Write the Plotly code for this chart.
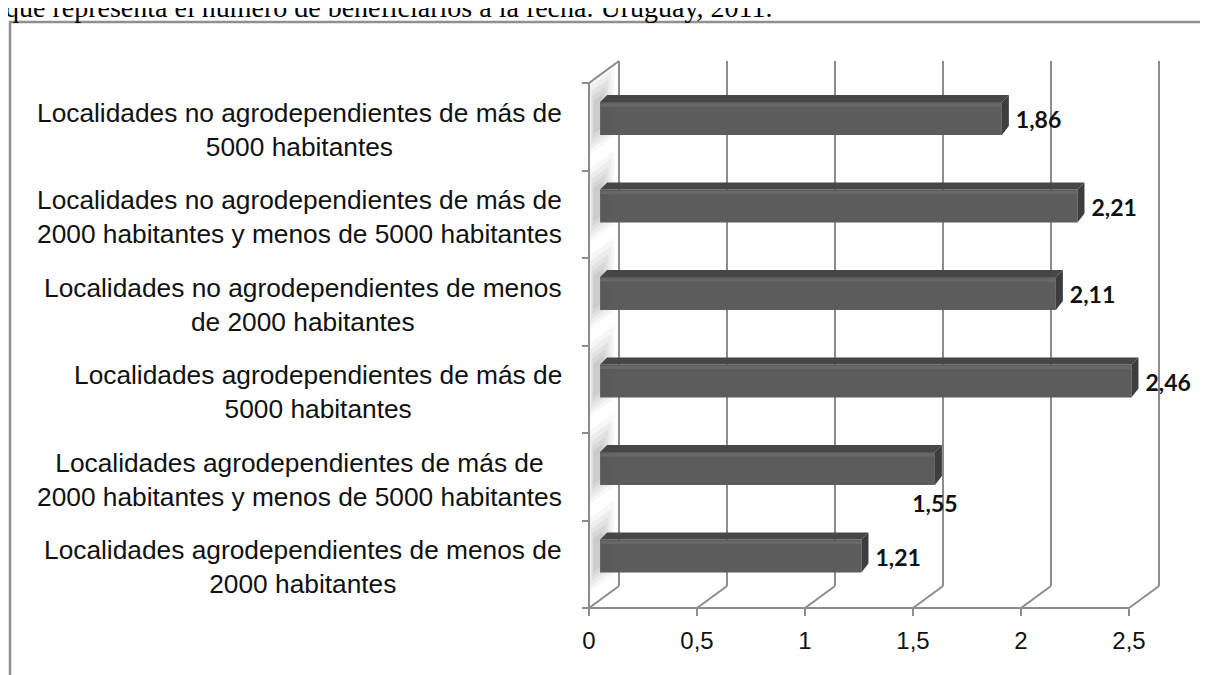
import plotly.graph_objects as go

# ---------------- data (bottom to top, as drawn by the category axis) ----------------
categories = [
    "Localidades agrodependientes de menos de<br>2000 habitantes",
    "Localidades agrodependientes de más de<br>2000 habitantes y menos de 5000 habitantes",
    "Localidades agrodependientes de más de<br>5000 habitantes",
    "Localidades no agrodependientes de menos<br>de 2000 habitantes",
    "Localidades no agrodependientes de más de<br>2000 habitantes y menos de 5000 habitantes",
    "Localidades no agrodependientes de más de<br>5000 habitantes",
]
values = [1.21, 1.55, 2.46, 2.11, 2.21, 1.86]
value_labels = ["1,21", "1,55", "2,46", "2,11", "2,21", "1,86"]
x_ticks = [0, 0.5, 1, 1.5, 2, 2.5]
x_tick_labels = ["0", "0,5", "1", "1,5", "2", "2,5"]
title_text = "que representa el número de beneficiarios a la fecha. Uruguay, 2011."

# ---------------- geometry / style ----------------
W, H = 1208, 675
OFF = 8                               # page body margin
X0_PX, PX_PER_X = 589 - OFF, 216.0
Y0_PX, PX_PER_Y = 608 - OFF, 87.5
xr = [-X0_PX / PX_PER_X, (W - X0_PX) / PX_PER_X]
yr = [(Y0_PX - H) / PX_PER_Y, Y0_PX / PX_PER_Y]

def px_x(p):
    return p / PX_PER_X

def px_y(p):
    return p / PX_PER_Y

DX, DY = px_x(30), px_y(22)          # depth of the 3D box
N = len(categories)
XMAX = x_ticks[-1]
GRID = "#8c8c8c"
BAR_DEPTH_FRAC = 0.37                 # where the bar front face sits
BAR_W = px_y(33)
BDX, BDY = px_x(7), px_y(7)           # bar top/side face depth

fig = go.Figure()

shapes = []
def line(x0, y0, x1, y1, color=GRID, width=2):
    shapes.append(dict(type="line", xref="x", yref="y", x0=x0, y0=y0, x1=x1, y1=y1,
                       line=dict(color=color, width=width), layer="below"))

# back wall gridlines + floor diagonals
for t in x_ticks:
    line(t + DX, DY, t + DX, N + DY)
    line(t, 0, t + DX, DY)
# front floor edge
line(0, 0, XMAX, 0)
# left wall
line(0, 0, 0, N)
line(0, N, DX, N + DY)

# ---------------- left-wall shadows (soft, layered) ----------------
shadow_layers = [
    (0.00, 0.85, -0.32, 0.52, 0.05),
    (0.05, 0.75, -0.27, 0.45, 0.06),
    (0.08, 0.65, -0.22, 0.38, 0.07),
    (0.12, 0.55, -0.17, 0.32, 0.08),
    (0.15, 0.45, -0.12, 0.26, 0.09),
]
for d0, d1, lo, hi, op in shadow_layers:
    xs, ys = [], []
    for k in range(N):
        c = k + 0.5
        pts = [(d0, c + lo), (d1, c + lo), (d1, c + hi), (d0, c + hi), (d0, c + lo)]
        for d, u in pts:
            xs.append(d * DX)
            ys.append(u + d * DY)
        xs.append(None)
        ys.append(None)
    fig.add_trace(go.Scatter(x=xs, y=ys, mode="lines", fill="toself",
                             fillcolor=f"rgba(90,90,90,{op})", line=dict(width=0),
                             hoverinfo="skip", showlegend=False))

# ---------------- bars ----------------
bar_x0 = BAR_DEPTH_FRAC * DX
centers = [k + 0.5 + BAR_DEPTH_FRAC * DY for k in range(N)]

fig.add_trace(go.Bar(
    y=centers, x=values, base=[bar_x0] * N, orientation="h", width=BAR_W,
    marker=dict(color="#5c5c5c", line=dict(width=0)),
    hoverinfo="skip", showlegend=False,
))

top_x, top_y, side_x, side_y, hl_x, hl_y = [], [], [], [], [], []
for v, c in zip(values, centers):
    x1 = bar_x0 + v
    yt = c + BAR_W / 2
    yb = c - BAR_W / 2
    top_x += [bar_x0, x1, x1 + BDX, bar_x0 + BDX, bar_x0, None]
    top_y += [yt, yt, yt + BDY, yt + BDY, yt, None]
    side_x += [x1, x1, x1 + BDX, x1 + BDX, x1, None]
    side_y += [yb, yt, yt + BDY, yb + BDY + px_y(2), yb, None]
    hl_x += [bar_x0, x1, None]
    hl_y += [yt - px_y(3), yt - px_y(3), None]

fig.add_trace(go.Scatter(x=top_x, y=top_y, mode="lines", fill="toself",
                         fillcolor="#464646", line=dict(width=0),
                         hoverinfo="skip", showlegend=False))
fig.add_trace(go.Scatter(x=side_x, y=side_y, mode="lines", fill="toself",
                         fillcolor="#3d3d3d", line=dict(width=0),
                         hoverinfo="skip", showlegend=False))
fig.add_trace(go.Scatter(x=hl_x, y=hl_y, mode="lines",
                         line=dict(color="#686868", width=3),
                         hoverinfo="skip", showlegend=False))

# ---------------- value labels ----------------
label_pos = ["middle right", "bottom center", "middle right",
             "middle right", "middle right", "middle right"]
lab_x, lab_y = [], []
for v, c, pos in zip(values, centers, label_pos):
    x1 = bar_x0 + v
    if pos == "bottom center":
        lab_x.append(x1)
        lab_y.append(c - BAR_W / 2 - px_y(10))
    else:
        lab_x.append(x1 + px_x(14))
        lab_y.append(c - px_y(4))
fig.add_trace(go.Scatter(
    x=lab_x, y=lab_y, mode="text", text=[f"<b>{t}</b>" for t in value_labels],
    textposition=label_pos, cliponaxis=False,
    textfont=dict(family="Lato, Open Sans, sans-serif", size=23, color="#111111"),
    hoverinfo="skip", showlegend=False,
))

# ---------------- category labels ----------------
annotations = []
for k, cat in enumerate(categories):
    annotations.append(dict(
        x=px_x(564 - 589), y=k + 0.5 - px_y(3), xref="x", yref="y",
        text=cat, showarrow=False, xanchor="right", yanchor="middle", align="center",
        font=dict(family="Liberation Sans, Arial, sans-serif", size=26.3, color="#111111"),
    ))

# title fragment (cut at the top of the page, as in the source document)
annotations.append(dict(
    x=-5 / W, y=(H - 17) / H, xref="paper", yref="paper", text=title_text,
    showarrow=False, xanchor="left", yanchor="bottom",
    font=dict(family="Liberation Serif, Times New Roman, serif", size=28, color="#000000"),
))

# outer frame
shapes.append(dict(type="rect", xref="paper", yref="paper",
                   x0=(10 - OFF) / W, x1=1.05, y0=-0.05, y1=(H - (22 - OFF)) / H,
                   line=dict(color="#8f8f8f", width=2.5), fillcolor="rgba(0,0,0,0)",
                   layer="below"))

fig.update_layout(
    width=W, height=H, margin=dict(l=0, r=0, t=0, b=0),
    paper_bgcolor="white", plot_bgcolor="white",
    barmode="overlay", showlegend=False,
    shapes=shapes, annotations=annotations,
    xaxis=dict(range=xr, tickvals=x_ticks, ticktext=x_tick_labels,
               ticks="outside", ticklen=7, tickwidth=2, tickcolor=GRID,
               showgrid=False, zeroline=False, showline=False,
               anchor="free", position=(H - Y0_PX) / H, ticklabelstandoff=4,
               tickfont=dict(family="Liberation Sans, Arial, sans-serif", size=24, color="#111111"),
               fixedrange=True),
    yaxis=dict(range=yr, tickvals=list(range(N + 1)),
               ticks="outside", ticklen=7, tickwidth=2, tickcolor=GRID,
               showticklabels=False, showgrid=False, zeroline=False, showline=False,
               anchor="free", position=X0_PX / W, fixedrange=True),
)

fig.write_html("out.html", config={"displayModeBar": False})
